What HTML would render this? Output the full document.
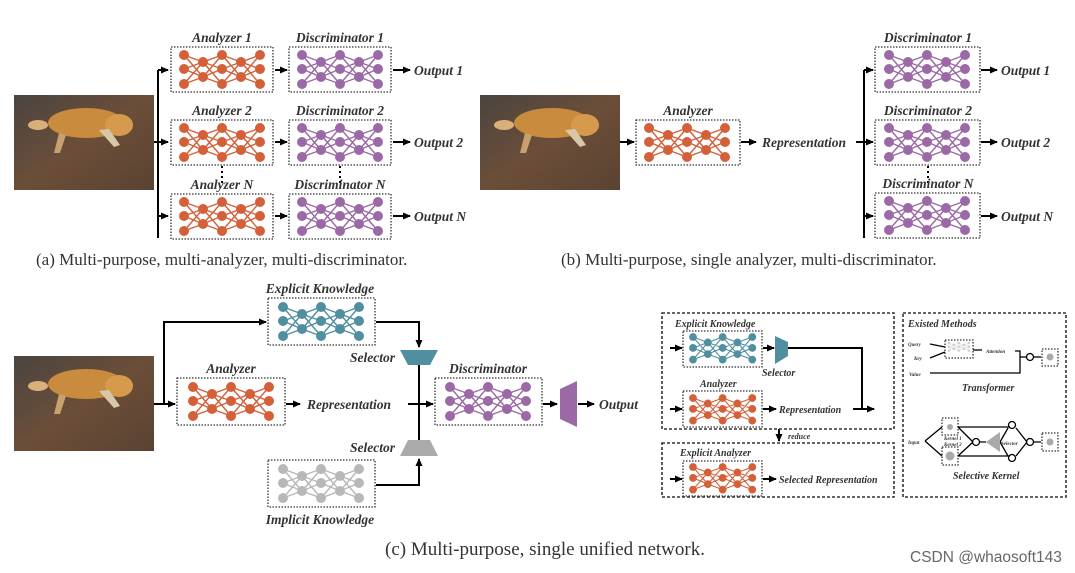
<!DOCTYPE html>
<html><head><meta charset="utf-8"><style>
html,body{margin:0;padding:0;background:#fff;}
svg{display:block;}
.l{font-family:"Liberation Serif",serif;font-style:italic;font-weight:bold;fill:#333;}
.c{font-family:"Liberation Serif",serif;fill:#333;}
</style></head><body>
<svg width="1075" height="573" viewBox="0 0 1075 573" xmlns="http://www.w3.org/2000/svg">
<defs>
<g id="net">
<path d="M0 0L19 7M0 0L19 22M0 14L19 7M0 14L19 22M0 29L19 7M0 29L19 22M19 7L38 0M19 7L38 14M19 7L38 29M19 22L38 0M19 22L38 14M19 22L38 29M38 0L57 7M38 0L57 22M38 14L57 7M38 14L57 22M38 29L57 7M38 29L57 22M57 7L76 0M57 7L76 14M57 7L76 29M57 22L76 0M57 22L76 14M57 22L76 29" stroke="currentColor" stroke-width="1.4" fill="none"/>
<g fill="currentColor"><circle cx="0" cy="0" r="5"/><circle cx="0" cy="14" r="5"/><circle cx="0" cy="29" r="5"/><circle cx="19" cy="7" r="5"/><circle cx="19" cy="22" r="5"/><circle cx="38" cy="0" r="5"/><circle cx="38" cy="14" r="5"/><circle cx="38" cy="29" r="5"/><circle cx="57" cy="7" r="5"/><circle cx="57" cy="22" r="5"/><circle cx="76" cy="0" r="5"/><circle cx="76" cy="14" r="5"/><circle cx="76" cy="29" r="5"/></g>
</g>
<marker id="ar" markerWidth="8" markerHeight="8" refX="7" refY="4" orient="auto" markerUnits="userSpaceOnUse"><path d="M0 0.5L8 4L0 7.5z" fill="#000"/></marker>
<linearGradient id="floor" x1="0" y1="0" x2="1" y2="1"><stop offset="0" stop-color="#4a4440"/><stop offset="0.5" stop-color="#6b4e38"/><stop offset="1" stop-color="#5a4232"/></linearGradient>
<g id="dog">
<rect x="0" y="0" width="140" height="95" fill="url(#floor)"/>
<ellipse cx="72" cy="28" rx="38" ry="15" fill="#c98b3e"/>
<ellipse cx="105" cy="30" rx="14" ry="11" fill="#d69a4c"/>
<ellipse cx="24" cy="30" rx="10" ry="5" fill="#d9b07a"/>
<path d="M45 38L40 58L46 58L52 40z" fill="#c9a070"/>
<path d="M85 35L100 52L106 50L95 34z" fill="#d8c8a8"/>
</g>
</defs>
<g stroke="#000" stroke-width="2" fill="none">
<path d="M158 70V238"/>
<path d="M158 70H168" marker-end="url(#ar)"/><path d="M158 142H168" marker-end="url(#ar)"/><path d="M158 216H168" marker-end="url(#ar)"/>
<path d="M154 142H158"/>
<path d="M275 70H287" marker-end="url(#ar)"/><path d="M275 142H287" marker-end="url(#ar)"/><path d="M275 216H287" marker-end="url(#ar)"/>
<path d="M393 70H410" marker-end="url(#ar)"/><path d="M393 142H410" marker-end="url(#ar)"/><path d="M393 216H410" marker-end="url(#ar)"/>
<path d="M620 142H634" marker-end="url(#ar)"/>
<path d="M741 142H756" marker-end="url(#ar)"/>
<path d="M856 142H873" marker-end="url(#ar)"/>
<path d="M864 70V238"/>
<path d="M864 70H873" marker-end="url(#ar)"/><path d="M864 216H873" marker-end="url(#ar)"/>
<path d="M981 70H997" marker-end="url(#ar)"/><path d="M981 142H997" marker-end="url(#ar)"/><path d="M981 216H997" marker-end="url(#ar)"/>
<path d="M154 404H175" marker-end="url(#ar)"/>
<path d="M164 404V322H266" marker-end="url(#ar)"/>
<path d="M376 322H419V347" marker-end="url(#ar)"/>
<path d="M419 365V444"/>
<path d="M376 485H419V459" marker-end="url(#ar)"/>
<path d="M286 404H300" marker-end="url(#ar)"/>
<path d="M408 404H433" marker-end="url(#ar)"/>
<path d="M543 404H557" marker-end="url(#ar)"/>
<path d="M578 404H594" marker-end="url(#ar)"/>
<path d="M670 348H682" marker-end="url(#ar)"/><path d="M763 348H774" marker-end="url(#ar)"/>
<path d="M788 348H862V409"/>
<path d="M670 409H682" marker-end="url(#ar)"/><path d="M763 409H776" marker-end="url(#ar)"/>
<path d="M853 409H874" marker-end="url(#ar)"/>
<path d="M779 429V441" marker-end="url(#ar)"/>
<path d="M670 479H682" marker-end="url(#ar)"/><path d="M763 479H776" marker-end="url(#ar)"/>
</g>
<g stroke="#000" stroke-width="2" stroke-dasharray="2 3"><path d="M158 170V196"/><path d="M864 170V196"/><path d="M222 166V184"/><path d="M340 166V184"/><path d="M928 166V184"/></g>
<use href="#dog" x="14" y="95"/><use href="#dog" x="480" y="95"/><use href="#dog" x="14" y="356"/>
<g fill="none" stroke="#333" stroke-width="1.3" stroke-dasharray="1.5 1.5">
<rect x="171" y="47" width="102" height="45"/><rect x="171" y="120" width="102" height="45"/><rect x="171" y="194" width="102" height="45"/>
<rect x="289" y="47" width="102" height="45"/><rect x="289" y="120" width="102" height="45"/><rect x="289" y="194" width="102" height="45"/>
<rect x="636" y="120" width="104" height="45"/>
<rect x="875" y="47" width="105" height="45"/><rect x="875" y="120" width="105" height="45"/><rect x="875" y="193" width="105" height="45"/>
<rect x="268" y="298" width="107" height="47"/><rect x="177" y="378" width="108" height="47"/><rect x="435" y="378" width="107" height="47"/><rect x="268" y="460" width="107" height="47"/>
<rect x="683" y="331" width="79" height="36"/><rect x="683" y="391" width="79" height="36"/><rect x="683" y="461" width="79" height="35"/>
<rect x="945" y="340" width="28" height="18"/><rect x="1042" y="349" width="16" height="17"/><rect x="942" y="418" width="16" height="17"/><rect x="942" y="447" width="16" height="18"/><rect x="1042" y="433" width="16" height="18"/>
</g>
<g fill="none" stroke="#333" stroke-width="1.6" stroke-dasharray="3 2">
<rect x="662" y="313" width="232" height="116"/><rect x="662" y="443" width="232" height="54"/><rect x="903" y="313" width="163" height="184"/>
</g>
<g color="#d4603a"><use href="#net" x="184" y="55"/><use href="#net" x="184" y="128"/><use href="#net" x="184" y="202"/><use href="#net" x="649" y="128"/><use href="#net" x="193" y="387"/></g>
<g color="#9b6aa6"><use href="#net" x="302" y="55"/><use href="#net" x="302" y="128"/><use href="#net" x="302" y="202"/><use href="#net" x="889" y="55"/><use href="#net" x="889" y="128"/><use href="#net" x="889" y="201"/><use href="#net" x="450" y="387"/></g>
<g color="#4f8fa0"><use href="#net" x="283" y="307"/><use href="#net" transform="translate(693 337) scale(0.78)"/></g>
<g color="#b8b8b8"><use href="#net" x="283" y="469"/></g>
<g color="#d4603a"><use href="#net" transform="translate(693 398) scale(0.78)"/><use href="#net" transform="translate(693 467) scale(0.78)"/></g>
<path d="M400 350H438L430 365H408z" fill="#4f8fa0"/>
<path d="M408 440H430L438 456H400z" fill="#aaa"/>
<path d="M560 389L577 381V427L560 419z" fill="#9b6aa6"/>
<path d="M775 336L788 342V356L775 364z" fill="#4f8fa0"/>
<g stroke="#000" stroke-width="1.3" fill="none">
<path d="M930 344L945 347"/><path d="M930 358L945 352"/><path d="M973 350H982"/>
<path d="M1015 351H1020V373H930"/><path d="M1020 357H1026"/><path d="M1034 357H1041"/>
<circle cx="1030" cy="357" r="3.5"/>
<path d="M925 441L942 427M925 441L942 456M958 427H1010M958 456H1010M958 427L973 442M958 456L973 442M980 442H986M1000 442L1008 428M1000 442L1008 456M1016 428L1027 442M1016 456L1027 442M1034 442H1041"/>
<circle cx="976" cy="442" r="3.5"/><circle cx="1012" cy="425" r="3.5"/><circle cx="1012" cy="458" r="3.5"/><circle cx="1030" cy="442" r="3.5"/>
</g>
<path d="M986 442L1000 432V452z" fill="#aaa"/>
<g fill="#aaa"><circle cx="1050" cy="357" r="3.5"/><circle cx="950" cy="427" r="3"/><circle cx="950" cy="456" r="4.5"/><circle cx="1050" cy="442" r="3.5"/></g>
<g color="#bbb" opacity="0.7"><use href="#net" transform="translate(949 343) scale(0.26)"/></g>
<g class="l" font-size="13.5" text-anchor="middle">
<text x="222" y="42">Analyzer 1</text><text x="340" y="42">Discriminator 1</text>
<text x="222" y="115">Analyzer 2</text><text x="340" y="115">Discriminator 2</text>
<text x="222" y="189">Analyzer N</text><text x="340" y="189">Discriminator N</text>
<text x="688" y="115">Analyzer</text>
<text x="928" y="42">Discriminator 1</text><text x="928" y="115">Discriminator 2</text><text x="928" y="188">Discriminator N</text>
<text x="320" y="293">Explicit Knowledge</text><text x="231" y="373">Analyzer</text><text x="488" y="373">Discriminator</text><text x="320" y="524">Implicit Knowledge</text>
</g>
<g class="l" font-size="13.5">
<text x="414" y="75">Output 1</text><text x="414" y="147">Output 2</text><text x="414" y="221">Output N</text>
<text x="762" y="147">Representation</text>
<text x="1001" y="75">Output 1</text><text x="1001" y="147">Output 2</text><text x="1001" y="221">Output N</text>
<text x="307" y="409">Representation</text><text x="599" y="409">Output</text>
<text x="350" y="362">Selector</text><text x="350" y="452">Selector</text>
</g>
<g class="l" font-size="10">
<text x="675" y="327">Explicit Knowledge</text><text x="762" y="376">Selector</text><text x="700" y="387">Analyzer</text>
<text x="779" y="413">Representation</text><text x="788" y="439" font-size="8">reduce</text>
<text x="680" y="456">Explicit Analyzer</text><text x="779" y="483">Selected Representation</text>
<text x="908" y="327">Existed Methods</text><text x="962" y="391">Transformer</text><text x="953" y="479">Selective Kernel</text>
</g>
<g class="l" font-size="5" font-weight="normal">
<text x="908" y="346">Query</text><text x="914" y="360">Key</text><text x="909" y="376">Value</text><text x="986" y="353">Attention</text>
<text x="908" y="444">Input</text><text x="944" y="440">Kernel 1</text><text x="944" y="446">Kernel 2</text><text x="1001" y="445">Selector</text>
</g>
<g class="c" font-size="17">
<text x="36" y="265">(a) Multi-purpose, multi-analyzer, multi-discriminator.</text>
<text x="561" y="265">(b) Multi-purpose, single analyzer, multi-discriminator.</text>
<text x="385" y="555" font-size="19" textLength="320" lengthAdjust="spacingAndGlyphs">(c) Multi-purpose, single unified network.</text>
</g>
<text x="910" y="562" font-family="'Liberation Sans',sans-serif" font-size="15.5" fill="#666">CSDN @whaosoft143</text>
</svg>
</body></html>
